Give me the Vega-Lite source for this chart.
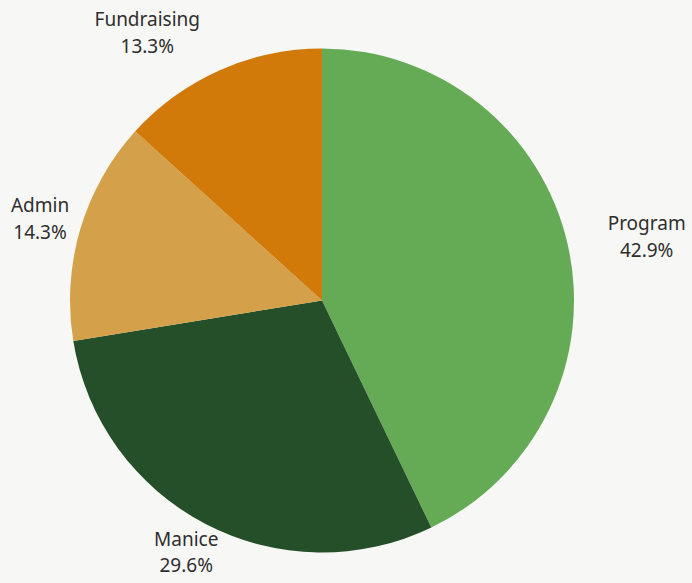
{
  "$schema": "https://vega.github.io/schema/vega-lite/v6.json",
  "width": 644,
  "height": 565,
  "autosize": {"type": "none"},
  "padding": {"left": 0, "top": 18, "right": 48, "bottom": 0},
  "background": "#f7f7f5",
  "view": {"stroke": null},
  "data": {
    "values": [
      {"category": "Program", "share": 0.429, "rank": 1},
      {"category": "Manice", "share": 0.296, "rank": 2},
      {"category": "Admin", "share": 0.143, "rank": 3},
      {"category": "Fundraising", "share": 0.133, "rank": 4}
    ]
  },
  "transform": [
    {"stack": "share", "groupby": [], "sort": [{"field": "rank", "order": "ascending"}], "as": ["s0", "s1"]},
    {"calculate": "(datum.s0 + datum.s1) / 2", "as": "mid"},
    {"calculate": "[datum.category, format(datum.share, '.1%')]", "as": "lbl"}
  ],
  "layer": [
    {
      "mark": {"type": "arc", "outerRadius": 252},
      "encoding": {
        "theta": {"field": "s0", "type": "quantitative", "scale": {"domain": [0, 1.001]}},
        "theta2": {"field": "s1"},
        "color": {
          "field": "category",
          "type": "nominal",
          "scale": {
            "domain": ["Program", "Manice", "Admin", "Fundraising"],
            "range": ["#65ab55", "#244f28", "#d4a04a", "#d17a0a"]
          },
          "legend": null
        }
      }
    },
    {
      "transform": [{"filter": "datum.category == 'Program'"}],
      "mark": {"type": "text", "radius": 333, "dy": -2, "fontSize": 19, "font": "Noto Sans", "color": "#2e2e2e", "lineHeight": 27, "baseline": "middle"},
      "encoding": {
        "theta": {"field": "mid", "type": "quantitative"},
        "text": {"field": "lbl"}
      }
    },
    {
      "transform": [{"filter": "datum.category == 'Fundraising'"}],
      "mark": {"type": "text", "radius": 320, "dx": -45, "dy": 12, "fontSize": 19, "font": "Noto Sans", "color": "#2e2e2e", "lineHeight": 27, "baseline": "middle"},
      "encoding": {
        "theta": {"field": "mid", "type": "quantitative"},
        "text": {"field": "lbl"}
      }
    },
    {
      "transform": [{"filter": "datum.category == 'Admin'"}],
      "mark": {"type": "text", "radius": 294, "dy": -11, "fontSize": 19, "font": "Noto Sans", "color": "#2e2e2e", "lineHeight": 27, "baseline": "middle"},
      "encoding": {
        "theta": {"field": "mid", "type": "quantitative"},
        "text": {"field": "lbl"}
      }
    },
    {
      "transform": [{"filter": "datum.category == 'Manice'"}],
      "mark": {"type": "text", "radius": 294, "dy": -21, "fontSize": 19, "font": "Noto Sans", "color": "#2e2e2e", "lineHeight": 26, "baseline": "middle"},
      "encoding": {
        "theta": {"field": "mid", "type": "quantitative"},
        "text": {"field": "lbl"}
      }
    }
  ]
}
